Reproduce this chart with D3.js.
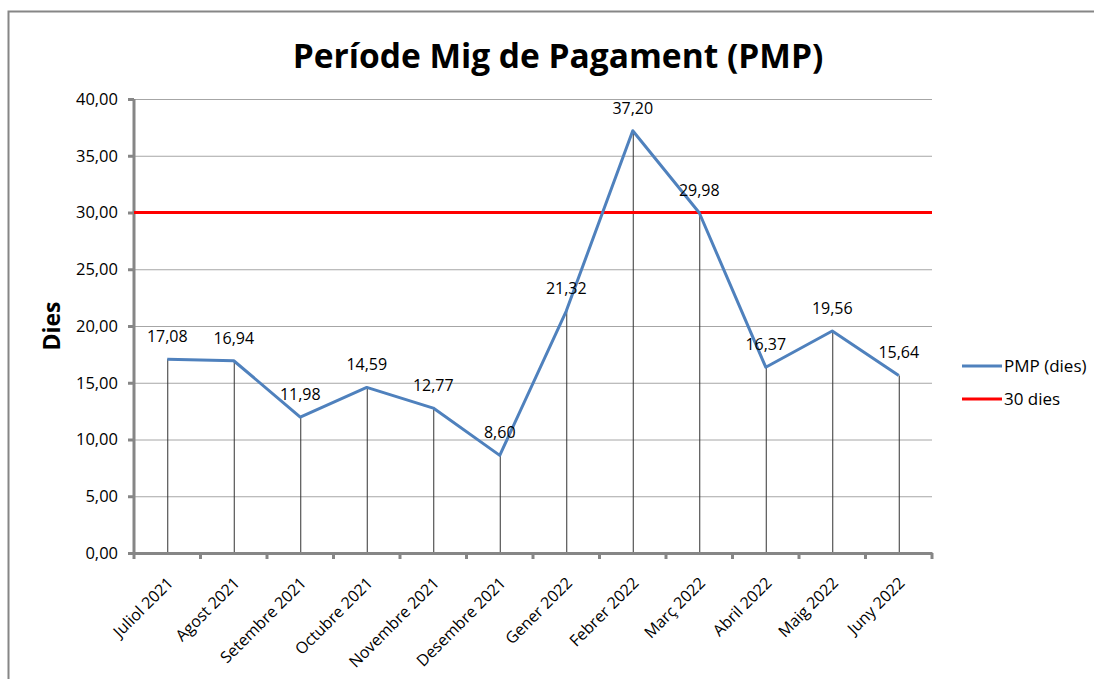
<!DOCTYPE html>
<html>
<head>
<meta charset="utf-8">
<script src="https://cdn.jsdelivr.net/npm/d3@7/dist/d3.min.js"></script>
<style>
  body { margin: 0; background: #fff; }
  svg { display: block; font-family: "Open Sans", sans-serif; }
</style>
</head>
<body>
<svg id="chart" width="1094" height="679"></svg>
<script>
const months = ['Juliol 2021', 'Agost 2021', 'Setembre 2021', 'Octubre 2021', 'Novembre 2021',
  'Desembre 2021', 'Gener 2022', 'Febrer 2022', 'Març 2022', 'Abril 2022', 'Maig 2022', 'Juny 2022'];
const pmp = [17.08, 16.94, 11.98, 14.59, 12.77, 8.60, 21.32, 37.20, 29.98, 16.37, 19.56, 15.64];
const limit = 30;
const yTicks = [0, 5, 10, 15, 20, 25, 30, 35, 40];

const svg = d3.select('svg#chart'),
  margin = {left: 134, right: 162, top: 99, bottom: 126};
const W = +svg.attr('width'), H = +svg.attr('height');

const fmt = v => d3.format('.2f')(v).replace('.', ',');
const axisGrey = '#868686',
  font = '"Open Sans", sans-serif';

// chart frame
svg.append('rect')
  .attr('x', 8.5).attr('y', 11.5)
  .attr('width', 1200).attr('height', 800)
  .attr('fill', 'none').attr('stroke', axisGrey).attr('stroke-width', 2);

const x = d3.scaleBand().domain(months).range([margin.left, W - margin.right]),
  y = d3.scaleLinear().domain([0, 40]).range([H - margin.bottom, margin.top]);

// title
svg.append('text')
  .attr('x', 558).attr('y', 68)
  .attr('text-anchor', 'middle')
  .style('font-size', '33.5px').style('font-weight', 'bold')
  .text('Període Mig de Pagament (PMP)');

// gridlines
svg.append('g')
  .selectAll('line')
  .data(yTicks.filter(d => d > 0))
  .enter().append('line')
  .attr('x1', x.range()[0]).attr('x2', x.range()[1])
  .attr('y1', d => y(d) + 0.5).attr('y2', d => y(d) + 0.5)
  .attr('stroke', '#a6a6a6').attr('stroke-width', 1);

// drop lines
svg.append('g')
  .selectAll('line')
  .data(pmp)
  .enter().append('line')
  .attr('x1', (d, i) => x(months[i]) + x.bandwidth() / 2 + 0.5)
  .attr('x2', (d, i) => x(months[i]) + x.bandwidth() / 2 + 0.5)
  .attr('y1', d => y(d)).attr('y2', y(0))
  .attr('stroke', '#333').attr('stroke-width', 1);

// y axis
const yAxis = svg.append('g')
  .attr('transform', `translate(${x.range()[0]},0)`)
  .attr('font-family', font)
  .call(d3.axisLeft(y).tickValues(yTicks).tickFormat(fmt).tickSize(6).tickPadding(10));
yAxis.attr('font-family', font);
yAxis.select('.domain').attr('stroke', axisGrey).attr('stroke-width', 3)
  .attr('d', `M0,${y(40)}V${y(0)}`);
yAxis.selectAll('.tick line').attr('stroke', axisGrey).attr('stroke-width', 3);
yAxis.selectAll('.tick text').style('font-size', '16.5px').attr('fill', '#000');

// x axis
const xAxis = svg.append('g')
  .attr('transform', `translate(0,${y(0)})`)
  .call(d3.axisBottom(x).tickSize(0));
xAxis.attr('font-family', font);
xAxis.select('.domain').attr('stroke', axisGrey).attr('stroke-width', 3);
xAxis.selectAll('.tick text')
  .style('font-size', '16px').attr('fill', '#000')
  .attr('text-anchor', 'end')
  .attr('x', 0).attr('y', 0).attr('dy', '0.35em')
  .attr('transform', 'translate(3,27) rotate(-45)');
xAxis.selectAll('line.bound')
  .data(months.map(m => x(m)).concat([x.range()[1]]))
  .enter().append('line')
  .attr('class', 'bound')
  .attr('x1', d => d).attr('x2', d => d)
  .attr('y1', 0).attr('y2', 6)
  .attr('stroke', axisGrey).attr('stroke-width', 3);

// y title
svg.append('text')
  .attr('transform', `translate(60,${(y(0) + y(40)) / 2}) rotate(-90)`)
  .attr('text-anchor', 'middle')
  .style('font-size', '23px').style('font-weight', 'bold')
  .text('Dies');

// 30 day limit
svg.append('line')
  .attr('x1', x.range()[0]).attr('x2', x.range()[1])
  .attr('y1', y(limit)).attr('y2', y(limit))
  .attr('stroke', '#ff0000').attr('stroke-width', 3);

// PMP line
const line = d3.line()
  .x((d, i) => x(months[i]) + x.bandwidth() / 2)
  .y(d => y(d));

svg.append('path')
  .datum(pmp)
  .attr('d', line)
  .attr('fill', 'none')
  .attr('stroke', '#4f81bd').attr('stroke-width', 3)
  .attr('stroke-linejoin', 'round');

svg.append('g')
  .selectAll('text')
  .data(pmp)
  .enter().append('text')
  .attr('x', (d, i) => x(months[i]) + x.bandwidth() / 2)
  .attr('y', d => y(d) - 17)
  .attr('text-anchor', 'middle')
  .style('font-size', '16px')
  .text(fmt);

// legend
const legend = svg.append('g').attr('transform', 'translate(962,0)');
[['PMP (dies)', '#4f81bd', 366], ['30 dies', '#ff0000', 399]].forEach(([label, color, ly]) => {
  legend.append('line')
    .attr('x1', 0).attr('x2', 40).attr('y1', ly).attr('y2', ly)
    .attr('stroke', color).attr('stroke-width', 3);
  legend.append('text')
    .attr('x', 42).attr('y', ly + 6)
    .style('font-size', '17px')
    .text(label);
});
</script>
</body>
</html>
